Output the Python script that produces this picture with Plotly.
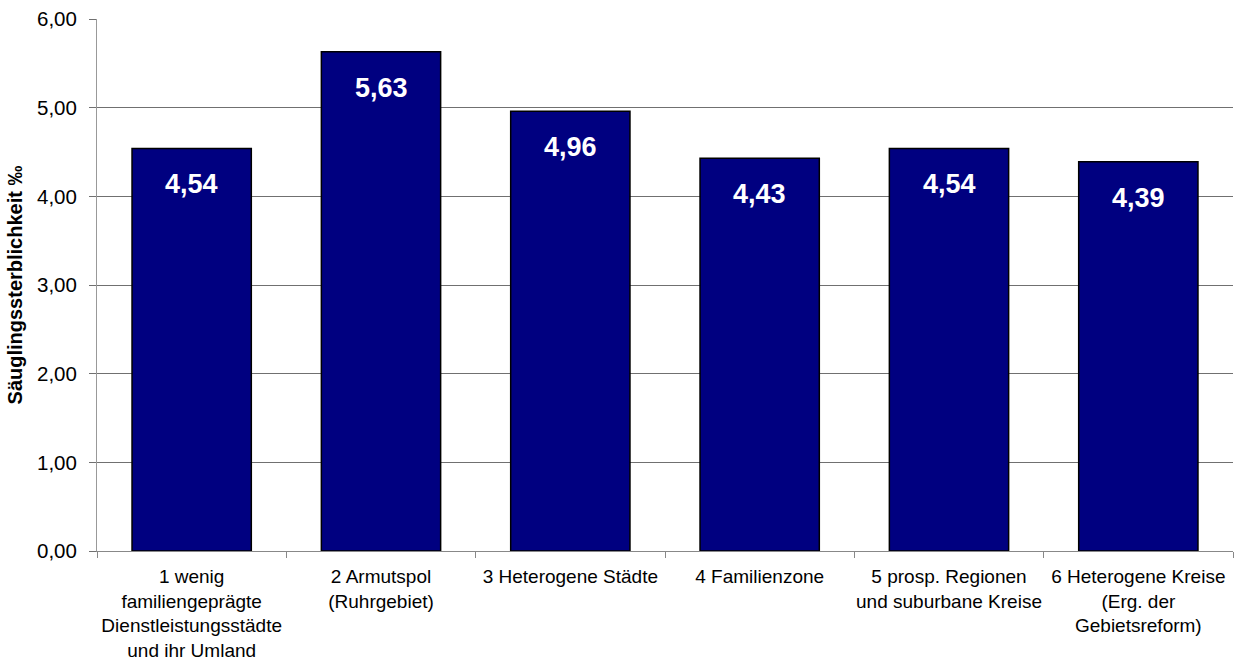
import plotly.graph_objects as go

categories = [
    "1 wenig<br>familiengeprägte<br>Dienstleistungsstädte<br>und ihr Umland",
    "2 Armutspol<br>(Ruhrgebiet)",
    "3 Heterogene Städte",
    "4 Familienzone",
    "5 prosp. Regionen<br>und suburbane Kreise",
    "6 Heterogene Kreise<br>(Erg. der<br>Gebietsreform)",
]
values = [4.54, 5.63, 4.96, 4.43, 4.54, 4.39]
labels = ["4,54", "5,63", "4,96", "4,43", "4,54", "4,39"]
y_ticks = [0, 1, 2, 3, 4, 5, 6]
y_ticklabels = ["0,00", "1,00", "2,00", "3,00", "4,00", "5,00", "6,00"]

FONT = "Liberation Sans, Arial, sans-serif"

fig = go.Figure()
fig.add_trace(go.Bar(
    x=categories, y=values,
    marker=dict(color="#000080", line=dict(color="#000000", width=1.5)),
    hoverinfo="skip",
))
for c, v, t in zip(categories, values, labels):
    fig.add_annotation(x=c, y=v, text="<b>%s</b>" % t, showarrow=False,
                       yanchor="middle", yshift=-36,
                       font=dict(family=FONT, size=27, color="white"))

fig.update_layout(
    width=1244, height=662,
    margin=dict(l=97, r=11, t=19, b=111, autoexpand=False),
    paper_bgcolor="white", plot_bgcolor="white",
    bargap=0.37, showlegend=False,
    font=dict(family=FONT, color="black"),
)
fig.update_xaxes(
    type="category", showgrid=False, showline=True, linecolor="#888888", linewidth=1,
    ticks="outside", tickson="boundaries", ticklen=6, tickcolor="#888888",
    tickfont=dict(family=FONT, size=19, color="black"),
    tickangle=0, automargin=False,
    ticklabelstandoff=8,
)
fig.update_yaxes(
    range=[0, 6], tickvals=y_ticks, ticktext=y_ticklabels,
    showgrid=True, gridcolor="#707070", gridwidth=1,
    showline=True, linecolor="#999999", linewidth=1,
    ticks="outside", ticklen=7, tickcolor="#707070",
    tickfont=dict(family=FONT, size=20.5, color="black"),
    ticklabelstandoff=8, automargin=False,
    zeroline=False,
    title=dict(text="<b>Säuglingssterblichkeit ‰</b>", font=dict(family=FONT, size=20, color="black"), standoff=8),
)
fig.write_html("out.html")
